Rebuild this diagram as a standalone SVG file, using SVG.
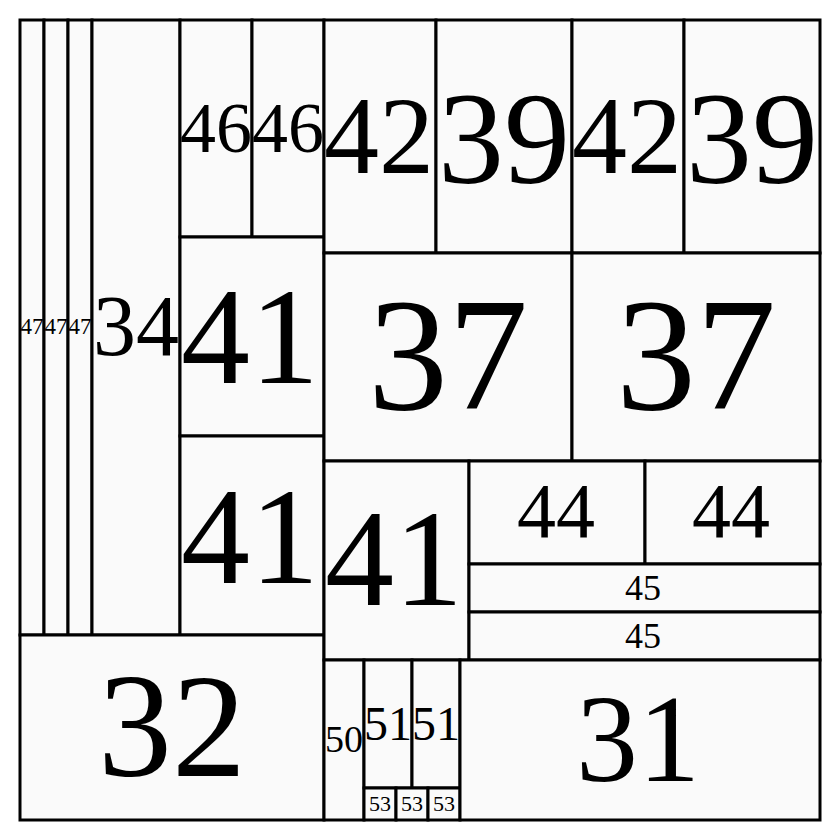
<svg xmlns="http://www.w3.org/2000/svg" width="840" height="840" viewBox="0 0 840 840">
<style>
rect{fill:#fafafa;stroke:#000;stroke-width:3}
text{font-family:"Liberation Serif","Times New Roman",serif;fill:#000;text-anchor:middle}
</style>
<rect x="0" y="0" width="840" height="840" style="fill:#fff;stroke:none"/>
<g id="n47a"><rect x="20" y="20" width="24" height="615"/><text x="32" y="334" font-size="23">47</text></g>
<g id="n47b"><rect x="44" y="20" width="24" height="615"/><text x="56" y="334" font-size="23">47</text></g>
<g id="n47c"><rect x="68" y="20" width="24" height="615"/><text x="80" y="334" font-size="23">47</text></g>
<g id="n34"><rect x="92" y="20" width="88" height="615"/><text x="136" y="355" font-size="86">34</text></g>
<g id="n46a"><rect x="180" y="20" width="72" height="217"/><text x="216" y="152" font-size="72">46</text></g>
<g id="n46b"><rect x="252" y="20" width="72" height="217"/><text x="288" y="152" font-size="72">46</text></g>
<g id="n41a"><rect x="180" y="237" width="144" height="199"/><text x="250" y="383" font-size="138">41</text></g>
<g id="n41b"><rect x="180" y="436" width="144" height="199"/><text x="250" y="583" font-size="138">41</text></g>
<g id="n32"><rect x="20" y="635" width="304" height="185"/><text x="172" y="776" font-size="148">32</text></g>
<g id="n42a"><rect x="324" y="20" width="112" height="233"/><text x="379" y="173" font-size="110">42</text></g>
<g id="n39a"><rect x="436" y="20" width="136" height="233"/><text x="504" y="183" font-size="132">39</text></g>
<g id="n42b"><rect x="572" y="20" width="112" height="233"/><text x="627" y="173" font-size="110">42</text></g>
<g id="n39b"><rect x="684" y="20" width="136" height="233"/><text x="752" y="183" font-size="132">39</text></g>
<g id="n37a"><rect x="324" y="253" width="248" height="208"/><text x="448" y="409" font-size="160">37</text></g>
<g id="n37b"><rect x="572" y="253" width="248" height="208"/><text x="696" y="409" font-size="160">37</text></g>
<g id="n41c"><rect x="324" y="461" width="145" height="199"/><text x="394" y="605" font-size="138">41</text></g>
<g id="n44a"><rect x="469" y="461" width="176" height="103"/><text x="556" y="537" font-size="78">44</text></g>
<g id="n44b"><rect x="645" y="461" width="175" height="103"/><text x="731" y="537" font-size="78">44</text></g>
<g id="n45a"><rect x="469" y="564" width="351" height="48"/><text x="643" y="600" font-size="36">45</text></g>
<g id="n45b"><rect x="469" y="612" width="351" height="48"/><text x="643" y="648" font-size="36">45</text></g>
<g id="n50"><rect x="324" y="660" width="40" height="160"/><text x="344" y="752" font-size="38">50</text></g>
<g id="n51a"><rect x="364" y="660" width="48" height="128"/><text x="388" y="740" font-size="48">51</text></g>
<g id="n51b"><rect x="412" y="660" width="48" height="128"/><text x="436" y="740" font-size="48">51</text></g>
<g id="n53a"><rect x="364" y="788" width="32" height="32"/><text x="380" y="811" font-size="22">53</text></g>
<g id="n53b"><rect x="396" y="788" width="32" height="32"/><text x="412" y="811" font-size="22">53</text></g>
<g id="n53c"><rect x="428" y="788" width="32" height="32"/><text x="444" y="811" font-size="22">53</text></g>
<g id="n31"><rect x="460" y="660" width="360" height="160"/><text x="638" y="781" font-size="124">31</text></g>
<g id="connectors"></g>
</svg>
